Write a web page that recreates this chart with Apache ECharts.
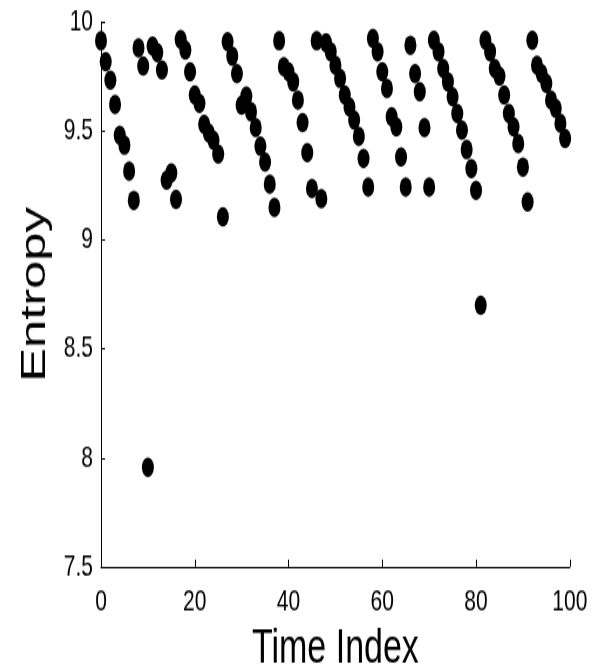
<!DOCTYPE html>
<html>
<head>
<meta charset="utf-8">
<script src="https://cdn.jsdelivr.net/npm/echarts@6/dist/echarts.min.js"></script>
<style>
html,body{margin:0;padding:0;background:#fff;overflow:hidden;width:593px;height:670px;}
#wrap{width:593px;height:670px;overflow:hidden;}
#chart{width:593px;height:462.07px;transform:scaleY(1.45);transform-origin:0 0;}
</style>
</head>
<body>
<div id="wrap"><div id="chart"></div></div>
<script>
const timeIndex = [
  0,1,2,3,4,5,6,7,8,9,
  10,11,12,13,14,15,16,17,18,19,
  20,21,22,23,24,25,26,27,28,29,
  30,31,32,33,34,35,36,37,38,39,
  40,41,42,43,44,45,46,47,48,49,
  50,51,52,53,54,55,56,57,58,59,
  60,61,62,63,64,65,66,67,68,69,
  70,71,72,73,74,75,76,77,78,79,
  80,81,82,83,84,85,86,87,88,89,
  90,91,92,93,94,95,96,97,98,99
];
const entropy = [
  9.914,9.818,9.734,9.622,9.480,9.435,9.316,9.182,9.882,9.798,
  7.957,9.890,9.860,9.780,9.274,9.308,9.186,9.920,9.871,9.772,
  9.665,9.627,9.531,9.490,9.458,9.394,9.106,9.910,9.844,9.764,
  9.619,9.660,9.588,9.516,9.430,9.358,9.256,9.149,9.914,9.795,
  9.772,9.726,9.642,9.539,9.401,9.236,9.914,9.190,9.905,9.864,
  9.802,9.741,9.665,9.611,9.550,9.476,9.374,9.243,9.925,9.864,
  9.772,9.695,9.565,9.519,9.381,9.243,9.894,9.764,9.680,9.516,
  9.243,9.917,9.864,9.787,9.726,9.657,9.580,9.504,9.415,9.328,
  9.228,8.700,9.917,9.864,9.787,9.752,9.665,9.580,9.519,9.443,
  9.335,9.175,9.917,9.802,9.764,9.718,9.642,9.604,9.535,9.466
];
const xTicks = [0, 20, 40, 60, 80, 100];
const yTicks = [7.5, 8, 8.5, 9, 9.5, 10];

const points = timeIndex.map((t, i) => [t, entropy[i]]);
const chart = echarts.init(document.getElementById('chart'), null, {renderer: 'canvas'});
const font = 'Liberation Sans, Arial, sans-serif';
chart.setOption({
  animation: false,
  backgroundColor: '#fff',
  grid: {left: 101, right: 23.2, top: 15.2, bottom: 71.1, containLabel: false, outerBoundsMode: 'none'},
  xAxis: {
    type: 'value', min: xTicks[0], max: xTicks[xTicks.length - 1], interval: 20,
    name: 'Time Index', nameLocation: 'middle', nameGap: 31,
    nameTextStyle: {fontFamily: font, fontSize: 34, color: '#000'},
    axisLine: {show: true, lineStyle: {color: '#000', width: 1}},
    axisTick: {show: true, inside: true, length: 5, lineStyle: {color: '#000'}},
    axisLabel: {fontFamily: font, fontSize: 21, color: '#000', margin: 14},
    splitLine: {show: false}
  },
  yAxis: {
    type: 'value', min: yTicks[0], max: yTicks[yTicks.length - 1], interval: 0.5,
    name: 'Entropy', nameLocation: 'middle', nameGap: 45,
    nameTextStyle: {fontFamily: font, fontSize: 35, color: '#000'},
    axisLine: {show: true, lineStyle: {color: '#000', width: 1}},
    axisTick: {show: true, inside: true, length: 4, lineStyle: {color: '#000'}},
    axisLabel: {fontFamily: font, fontSize: 21, color: '#000', margin: 8},
    splitLine: {show: false}
  },
  series: [{
    type: 'scatter',
    data: points,
    symbol: 'circle',
    symbolSize: [12, 13.5],
    itemStyle: {color: '#000', opacity: 1},
    clip: false
  }]
});
</script>
</body>
</html>
